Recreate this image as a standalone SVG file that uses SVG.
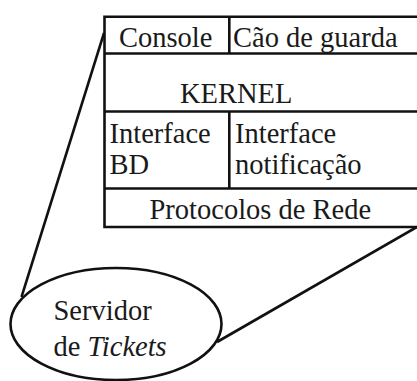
<svg xmlns="http://www.w3.org/2000/svg" width="417" height="381" viewBox="0 0 417 381">
  <style>
    .ln { fill: none; stroke: #111; stroke-width: 2.6; stroke-linejoin: miter; }
    text { font-family: 'Liberation Serif', 'DejaVu Serif', 'Times New Roman', serif; font-size: 28.5px; fill: #1a1a1a; }
    .it { font-style: italic; }
  </style>
  <rect width="417" height="381" fill="#fff"/>

  <!-- connectors fanning out from the server to the layered stack -->
  <g id="connectors">
    <line class="ln" x1="104" y1="33" x2="21.5" y2="297"/>
    <line class="ln" x1="417" y1="227" x2="217" y2="342"/>
  </g>

  <!-- layered component stack (extends past right edge) -->
  <g id="stack">
    <path class="ln" d="M430,16.7 H104.5 V227 H430"/>
    <g id="row-console">
      <line class="ln" x1="104.5" y1="53.5" x2="430" y2="53.5"/>
      <line class="ln" x1="229.3" y1="16.7" x2="229.3" y2="53.5"/>
      <text x="119" y="46.5">Console</text>
      <text x="233" y="46.5">Cão de guarda</text>
    </g>
    <g id="row-kernel">
      <line class="ln" x1="104.5" y1="111.5" x2="430" y2="111.5"/>
      <text x="180" y="102.5">KERNEL</text>
    </g>
    <g id="row-interfaces">
      <line class="ln" x1="104.5" y1="188.5" x2="430" y2="188.5"/>
      <line class="ln" x1="229.3" y1="111.5" x2="229.3" y2="188.5"/>
      <text x="109.5" y="142.5">Interface</text>
      <text x="109.5" y="174">BD</text>
      <text x="235" y="142.5">Interface</text>
      <text x="235" y="174">notificação</text>
    </g>
    <g id="row-protocolos">
      <text x="149.5" y="219">Protocolos de Rede</text>
    </g>
  </g>

  <!-- ticket server node -->
  <g id="servidor">
    <ellipse class="ln" cx="116" cy="324" rx="105.5" ry="56"/>
    <text x="53.5" y="320">Servidor</text>
    <text x="53.5" y="356">de <tspan class="it">Tickets</tspan></text>
  </g>
</svg>
